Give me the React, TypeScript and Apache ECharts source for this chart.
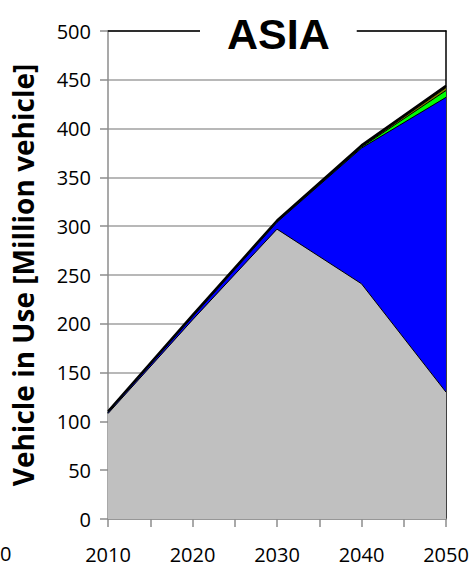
import React, { useEffect, useRef } from "react";
import * as echarts from "echarts";

const years = [2010, 2020, 2030, 2040, 2050];
const iceValues = [108, 204, 297, 241, 130];
const bevValues = [1, 3, 7, 139, 302];
const greenValues = [0, 0, 0, 1, 7];
const oliveValues = [0, 0, 0, 0.5, 3];
const otherValues = [1.5, 2, 2, 1.5, 2];
const yTicks = [0, 50, 100, 150, 200, 250, 300, 350, 400, 450, 500];

const layers = [
  { name: "ICE", vals: iceValues, color: "#c0c0c0" },
  { name: "BEV", vals: bevValues, color: "#0000ff" },
  { name: "FCEV", vals: greenValues, color: "#00ff00" },
  { name: "Other", vals: oliveValues, color: "#808000" },
  { name: "Total", vals: otherValues, color: "#000000" },
];

export default function App() {
  const ref = useRef<HTMLDivElement>(null);
  useEffect(() => {
    if (!ref.current) return;
    const chart = echarts.init(ref.current, undefined, { renderer: "svg" });
    const font = "'Open Sans', sans-serif";
    // cumulative tops of each layer; drawn top-down so lower layers overlay upper ones
    const cum: number[][] = [];
    layers.forEach((l, k) => {
      cum.push(l.vals.map((v, i) => v + (k > 0 ? cum[k - 1][i] : 0)));
    });
    const series = layers
      .map((l, k) => ({
        name: l.name,
        type: "line",
        data: years.map((y, i) => [y, cum[k][i]]),
        symbol: "none",
        lineStyle: { color: "#000", width: k === layers.length - 1 ? 2 : 1 },
        areaStyle: { color: l.color, opacity: 1 },
        z: 2 + (layers.length - k),
      }))
      .reverse();
    chart.setOption({
      animation: false,
      title: {
        text: "ASIA",
        left: 200,
        top: 12,
        padding: [0, 27, 0, 27],
        backgroundColor: "#fff",
        textStyle: { fontFamily: "Arial, 'Liberation Sans', sans-serif", fontWeight: "bold", fontSize: 43, color: "#000" },
        z: 10,
      },
      grid: { left: 108, right: 29, top: 31, bottom: 53, containLabel: false, outerBoundsMode: "none" },
      xAxis: [
        {
          type: "value",
          min: 2010,
          max: 2050,
          interval: 5,
          axisLine: { show: true, lineStyle: { color: "#8c8c8c", width: 1.5 } },
          axisTick: { show: true, length: 8, inside: false, lineStyle: { color: "#8c8c8c", width: 1.5 } },
          splitLine: { show: false },
          axisLabel: {
            margin: 25,
            fontFamily: font,
            fontSize: 20,
            color: "#000",
            formatter: (v: number) => (v % 10 === 0 ? String(v) : ""),
          },
        },
        {
          type: "value",
          position: "top",
          min: 2010,
          max: 2050,
          axisLine: { show: true, onZero: false, lineStyle: { color: "#000", width: 1.5 } },
          axisTick: { show: false },
          axisLabel: { show: false },
          splitLine: { show: false },
        },
      ],
      yAxis: [
        {
          type: "value",
          min: 0,
          max: 500,
          interval: 50,
          name: "Vehicle in Use [Million vehicle]",
          nameLocation: "middle",
          nameRotate: 90,
          nameGap: 71,
          nameTextStyle: { fontFamily: font, fontWeight: "bold", fontSize: 28, color: "#000" },
          axisLine: { show: true, lineStyle: { color: "#8c8c8c", width: 1.5 } },
          axisTick: { show: true, length: 8, lineStyle: { color: "#8c8c8c", width: 1.5 } },
          splitLine: { show: true, lineStyle: { color: "#a0a0a0", width: 1.5 } },
          axisLabel: {
            margin: 17,
            fontFamily: font,
            fontSize: 20,
            color: "#000",
            formatter: (v: number) => (yTicks.includes(v) ? String(v) : ""),
          },
        },
        {
          type: "value",
          position: "right",
          min: 0,
          max: 500,
          axisLine: { show: true, lineStyle: { color: "#000", width: 1.5 } },
          axisTick: { show: false },
          axisLabel: { show: false },
          splitLine: { show: false },
        },
      ],
      graphic: [
        {
          type: "text",
          left: 0,
          top: 543,
          style: { text: "0", font: "20px 'Open Sans', sans-serif", fill: "#000" },
        },
      ],
      series,
    });
    return () => chart.dispose();
  }, []);
  return <div ref={ref} style={{ width: 475, height: 572, position: "absolute", left: 0, top: 0 }} />;
}
